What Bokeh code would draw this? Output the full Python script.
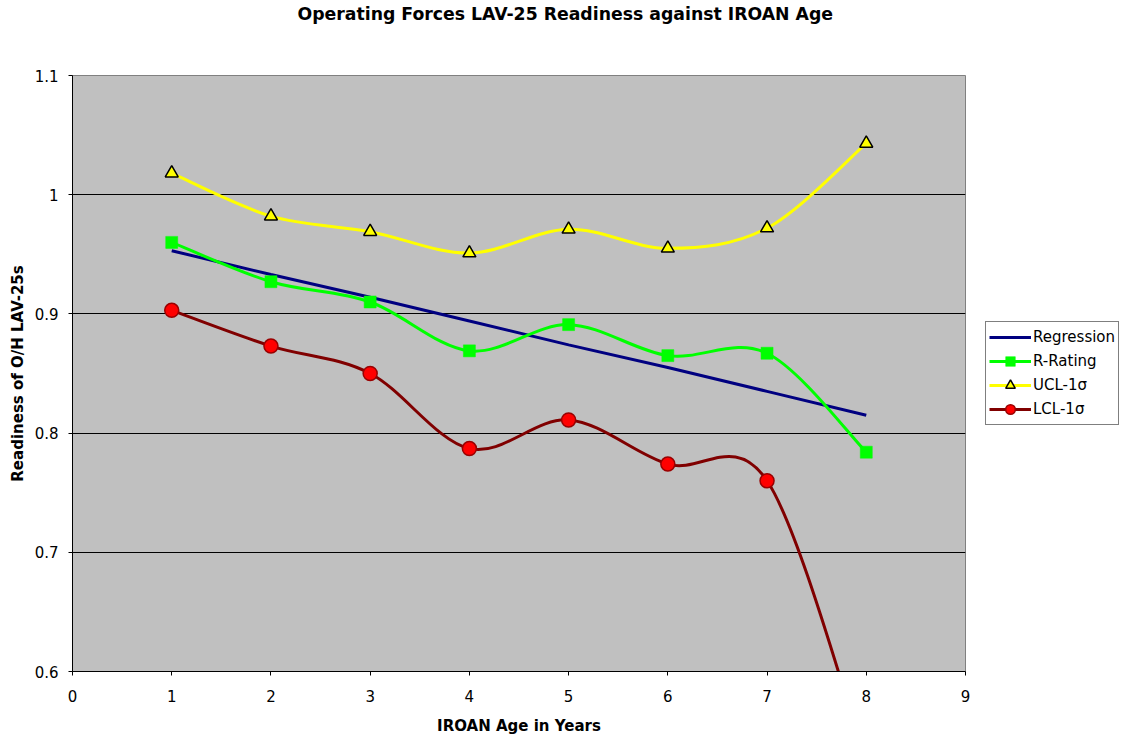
from bokeh.plotting import figure
from bokeh.layouts import row
from bokeh.models import (ColumnDataSource, FixedTicker, Legend, LegendItem,
                          Range1d, Title)
from bokeh.embed import file_html
from bokeh.resources import INLINE

# ---------------- data ----------------
title_text = "Operating Forces LAV-25 Readiness against IROAN Age"
x_label = "IROAN Age in Years"
y_label = "Readiness of O/H LAV-25s"

ages = [1, 2, 3, 4, 5, 6, 7, 8]
regression = [0.953, 0.933, 0.914, 0.894, 0.874, 0.855, 0.835, 0.815]
r_rating = [0.960, 0.927, 0.910, 0.869, 0.891, 0.865, 0.867, 0.784]
ucl = [1.018, 0.982, 0.969, 0.951, 0.971, 0.955, 0.972, 1.043]
lcl = [0.903, 0.873, 0.850, 0.787, 0.811, 0.774, 0.760, 0.525]

series_names = ["Regression", "R-Rating", "UCL-1σ", "LCL-1σ"]

x_ticks = [0, 1, 2, 3, 4, 5, 6, 7, 8, 9]
x_tick_labels = ["0", "1", "2", "3", "4", "5", "6", "7", "8", "9"]
y_ticks = [0.6, 0.7, 0.8, 0.9, 1.0, 1.1]
y_tick_labels = ["0.6", "0.7", "0.8", "0.9", "1", "1.1"]

FONT = "DejaVu Sans"

STYLES = {
    "Regression": dict(line_color="#000080"),
    "R-Rating": dict(line_color="#00FF00", marker="square", size=12,
                     fill_color="#00FF00", mline="#00FF00", mwidth=0.5),
    "UCL-1σ": dict(line_color="#FFFF00", marker="triangle", size=13,
                   fill_color="#FFFF00", mline="black", mwidth=1.5),
    "LCL-1σ": dict(line_color="#800000", marker="circle", size=14,
                   fill_color="#FF0000", mline="#990000", mwidth=1.5),
}


def smooth_source(xs, ys):
    """Bezier control points for a smoothed (Excel-like) line through the points."""
    n = len(xs)
    d = {k: [] for k in ("x0", "y0", "x1", "y1", "cx0", "cy0", "cx1", "cy1")}
    for i in range(n - 1):
        xp, yp = (xs[i - 1], ys[i - 1]) if i > 0 else (xs[i], ys[i])
        xn, yn = (xs[i + 2], ys[i + 2]) if i + 2 < n else (xs[i + 1], ys[i + 1])
        d["x0"].append(xs[i]); d["y0"].append(ys[i])
        d["x1"].append(xs[i + 1]); d["y1"].append(ys[i + 1])
        d["cx0"].append(xs[i] + (xs[i + 1] - xp) / 6.0)
        d["cy0"].append(ys[i] + (ys[i + 1] - yp) / 6.0)
        d["cx1"].append(xs[i + 1] - (xn - xs[i]) / 6.0)
        d["cy1"].append(ys[i + 1] - (yn - ys[i]) / 6.0)
    return ColumnDataSource(d)


# ---------------- main chart ----------------
p = figure(width=975, height=738, title=None,
           x_range=Range1d(0, 9), y_range=Range1d(0.6, 1.1),
           output_backend="svg", toolbar_location=None,
           min_border_left=72, min_border_right=10,
           min_border_top=75, min_border_bottom=67,
           background_fill_color="#C0C0C0", border_fill_color="white",
           outline_line_color="#808080", outline_line_width=1)

# inner (invisible) spacer title, then the real title further out
p.add_layout(Title(text=" ", text_font_size="1px", standoff=46,
                   text_color="white"), "above")
p.add_layout(Title(text=title_text, align="left", offset=225,
                   vertical_align="top", standoff=2,
                   text_font=FONT, text_font_size="17.3px",
                   text_font_style="bold", text_color="black"), "above")

p.xaxis.ticker = FixedTicker(ticks=x_ticks)
p.xaxis.major_label_overrides = dict(zip(x_ticks, x_tick_labels))
p.yaxis.ticker = FixedTicker(ticks=y_ticks)
p.yaxis.major_label_overrides = dict(zip(y_ticks, y_tick_labels))
for ax in (p.xaxis, p.yaxis):
    ax.axis_line_color = "black"
    ax.axis_line_width = 1
    ax.major_tick_line_color = "black"
    ax.major_tick_in = 0
    ax.major_tick_out = 4
    ax.minor_tick_line_color = None
    ax.major_label_text_font = FONT
    ax.major_label_text_font_size = "15px"
    ax.major_label_text_color = "black"
    ax.axis_label_text_font = FONT
    ax.axis_label_text_font_size = "15px"
    ax.axis_label_text_font_style = "bold"
    ax.axis_label_text_color = "black"
p.xaxis.axis_label = x_label
p.yaxis.axis_label = y_label
p.xaxis.major_label_standoff = 14
p.xaxis.axis_label_standoff = 12
p.yaxis.major_label_standoff = 10
p.yaxis.axis_label_standoff = 5

p.xgrid.grid_line_color = None
p.ygrid.ticker = FixedTicker(ticks=y_ticks[1:-1])
p.ygrid.grid_line_color = "black"
p.ygrid.grid_line_width = 1

p.line(ages, regression, line_color=STYLES["Regression"]["line_color"], line_width=3)
for name, vals in (("R-Rating", r_rating), ("UCL-1σ", ucl), ("LCL-1σ", lcl)):
    st = STYLES[name]
    p.bezier(x0="x0", y0="y0", x1="x1", y1="y1", cx0="cx0", cy0="cy0",
             cx1="cx1", cy1="cy1", source=smooth_source(ages, vals),
             line_color=st["line_color"], line_width=3)
    p.scatter(ages, vals, marker=st["marker"], size=st["size"],
              fill_color=st["fill_color"], line_color=st["mline"],
              line_width=st["mwidth"])

# ---------------- legend panel (separate narrow figure) ----------------
# same series drawn outside this panel's visible range; only the legend shows
lg = figure(width=147, height=738, title=None,
            x_range=Range1d(-2, -1), y_range=Range1d(-2, -1),
            x_axis_type=None, y_axis_type=None,
            output_backend="svg", toolbar_location=None, min_border=0,
            background_fill_color="white", border_fill_color="white",
            outline_line_color=None)

items = []
for name, vals in (("Regression", regression), ("R-Rating", r_rating),
                   ("UCL-1σ", ucl), ("LCL-1σ", lcl)):
    st = STYLES[name]
    rs = [lg.line(ages, vals, line_color=st["line_color"], line_width=3)]
    if "marker" in st:
        rs.append(lg.scatter(ages, vals, marker=st["marker"], size=st["size"],
                             fill_color=st["fill_color"], line_color=st["mline"],
                             line_width=st["mwidth"]))
    items.append(LegendItem(label=name, renderers=rs))

legend = Legend(items=items, location=(10, 246))
legend.label_text_font = FONT
legend.label_text_font_size = "15px"
legend.label_text_color = "black"
legend.label_height = 24
legend.glyph_height = 24
legend.glyph_width = 42
legend.label_standoff = 2
legend.spacing = 0
legend.padding = 3
legend.margin = 0
legend.border_line_color = "black"
legend.border_line_width = 1
legend.background_fill_color = "white"
legend.background_fill_alpha = 1.0
lg.add_layout(legend, "center")

layout = row(p, lg, spacing=0)
open("out.html", "w").write(file_html(layout, INLINE))
